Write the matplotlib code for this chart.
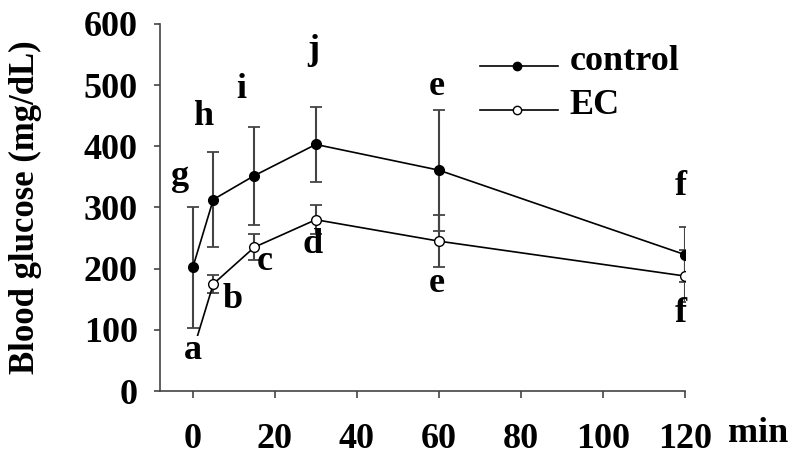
import matplotlib
matplotlib.use("Agg")
import matplotlib.pyplot as plt

# Data
TIME = [0, 5, 15, 30, 60, 120]
CONTROL = [202, 313, 352, 403, 361, 223]
CONTROL_ERR = [99, 78, 80, 61, 99, 45]
EC = [65, 175, 235, 280, 245, 188]
EC_ERR = [10, 14, 21, 24, 42, 43]

# significance letters (x, y, letter)
CONTROL_LETTERS = [(-3, 350, 'g'), (2.4, 449, 'h'), (11.7, 492, 'i'),
                   (29.3, 557, 'j'), (59.5, 497, 'e'), (119, 335, 'f')]
EC_LETTERS = [(0, 67, 'a'), (9.8, 149, 'b'), (17.6, 211, 'c'),
              (29.3, 240, 'd'), (59.5, 176, 'e'), (119, 126, 'f')]

XTICKS = [0, 20, 40, 60, 80, 100, 120]
YTICKS = [0, 100, 200, 300, 400, 500, 600]

FONT = 'Liberation Serif'
FS = 26
GREY = '#444444'

plt.rcParams['font.family'] = FONT
plt.rcParams['font.weight'] = 'bold'

fig = plt.figure(figsize=(8, 4.59), dpi=100)
ax = fig.add_axes([0.2, 0.148, 0.656, 0.8])

ax.errorbar(TIME, CONTROL, yerr=CONTROL_ERR, fmt='none', ecolor=GREY,
            elinewidth=1.5, capsize=4, capthick=1.3, zorder=2)
ax.errorbar(TIME, EC, yerr=EC_ERR, fmt='none', ecolor=GREY,
            elinewidth=1.5, capsize=4, capthick=1.3, zorder=2)
ax.plot(TIME, CONTROL, '-o', color='black', lw=1.2, ms=7,
        mfc='black', mec='black', zorder=3)
ax.plot(TIME, EC, '-o', color='black', lw=1.2, ms=7,
        mfc='white', mec='black', mew=1.0, zorder=3)

for x, y, s in CONTROL_LETTERS + EC_LETTERS:
    t = ax.text(x, y, s, ha='center', va='center', fontsize=FS,
                fontweight='bold', zorder=5)
    if s == 'a':
        t.set_bbox(dict(facecolor='white', edgecolor='none', pad=-2))

# legend drawn by hand in axes fraction
for yf, fill, label in [(0.886, 'black', 'control'), (0.766, 'white', 'EC')]:
    ax.plot([0.609, 0.758], [yf, yf], color='black', lw=1.2,
            transform=ax.transAxes, clip_on=False)
    ax.plot([0.681], [yf], 'o', ms=6, mfc=fill, mec='black',
            transform=ax.transAxes, clip_on=False)
    ax.text(0.78, yf + 0.012, label, transform=ax.transAxes, ha='left',
            va='center', fontsize=FS, fontweight='bold')

ax.set_xlim(-8, 120)
ax.set_ylim(0, 600)
ax.set_xticks(XTICKS)
ax.set_yticks(YTICKS)
ax.tick_params(axis='x', direction='out', length=5, width=1.2,
               color=GREY, pad=18, labelsize=FS)
ax.tick_params(axis='y', direction='out', length=4, width=1.2,
               color=GREY, pad=12, labelsize=FS)
for lab in ax.get_xticklabels() + ax.get_yticklabels():
    lab.set_fontweight('bold')

for side in ['top', 'right']:
    ax.spines[side].set_visible(False)
for side in ['left', 'bottom']:
    ax.spines[side].set_color(GREY)
    ax.spines[side].set_linewidth(1.2)

ax.set_ylabel('Blood glucose (mg/dL)', fontsize=25, fontweight='bold',
              labelpad=30)
fig.text(0.91, 0.038, 'min', fontsize=FS, fontweight='bold', ha='left')

fig.savefig('out.png', dpi=100)
